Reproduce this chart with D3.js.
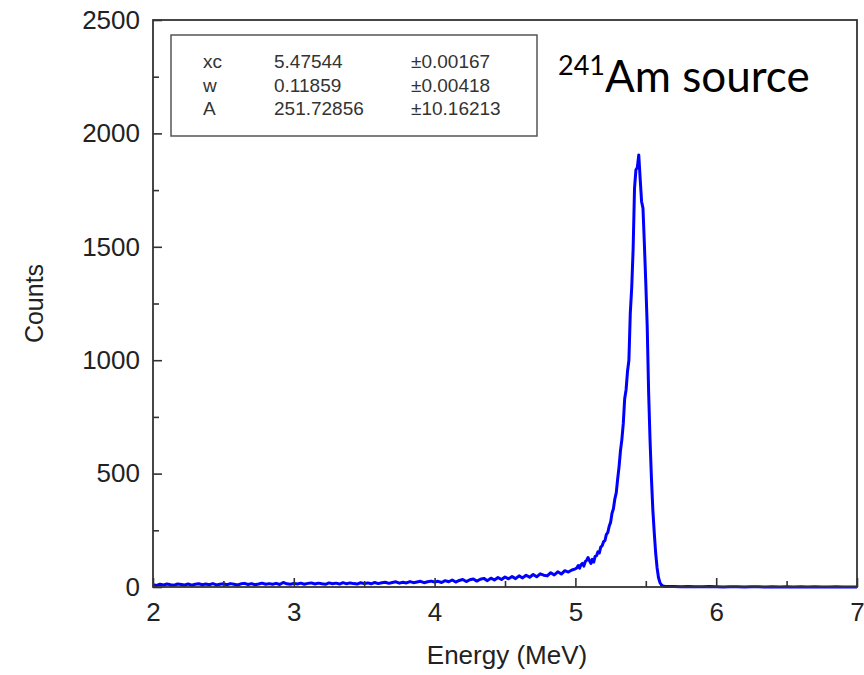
<!DOCTYPE html>
<html>
<head>
<meta charset="utf-8">
<script src="https://cdn.jsdelivr.net/npm/d3@7"></script>
<style>
  html, body { margin: 0; padding: 0; background: #fff; }
  svg { display: block; }
</style>
</head>
<body>
<svg id="chart" width="864" height="675"></svg>
<script>
// Alpha spectrum of a 241Am source: counts per channel vs energy (MeV)

// Low-energy tail, 2.000 .. 5.000 MeV in 0.025 MeV channels
const tailStart = 2.0, tailStep = 0.025;
const tailCounts = [
  10, 7, 12, 9, 13, 10, 8, 13, 11, 9, 13, 8, 12, 14, 10, 13, 10, 15, 9, 12, 14,
  10, 15, 12, 9, 14, 16, 11, 15, 10, 13, 17, 12, 15, 12, 16, 11, 20, 14, 12, 16,
  13, 17, 12, 16, 18, 13, 17, 14, 12, 18, 14, 17, 13, 19, 14, 18, 15, 13, 19, 15,
  18, 14, 20, 15, 19, 21, 16, 20, 23, 17, 21, 18, 24, 19, 22, 25, 19, 23, 26, 22,
  25, 20, 28, 23, 31, 22, 29, 33, 24, 32, 35, 26, 34, 38, 28, 39, 31, 42, 33, 44,
  36, 46, 37, 49, 40, 52, 43, 55, 45, 58, 52, 49, 63, 53, 67, 57, 72, 66, 75, 80
];

// Main peak region, 5.01 .. 5.65 MeV in 0.01 MeV channels
const peakStart = 5.01, peakStep = 0.01;
const peakCounts = [
  84, 95, 83, 99, 104, 92, 112, 118, 130, 116,
  104, 122, 110, 135, 138, 155, 150, 176, 182, 200,
  205, 232, 240, 268, 285, 325, 345, 388, 415, 475,
  530, 600, 650, 720, 830, 870, 950, 1000, 1210, 1320,
  1490, 1760, 1840, 1850, 1905, 1800, 1700, 1670, 1510, 1340,
  1150, 860, 650, 480, 340, 240, 150, 85, 42, 20,
  10, 5, 3, 2, 2
];

// High-energy side, 5.70 .. 7.00 MeV in 0.05 MeV channels
const highStart = 5.70, highStep = 0.05;
const highCounts = [2, 1, 2, 1, 1, 2, 1, 0, 1, 1, 0, 1, 1, 0, 1, 0, 1, 0, 1, 0, 1, 0, 0, 1, 0, 0, 0];

// Gaussian fit parameters shown in the inset table
const fitNames  = ["xc", "w", "A"];
const fitValues = ["5.47544", "0.11859", "251.72856"];
const fitErrors = ["\u00b10.00167", "\u00b10.00418", "\u00b110.16213"];

const xTicks = [2, 3, 4, 5, 6, 7];
const yTicks = [0, 500, 1000, 1500, 2000, 2500];

const toPoints = (start, step, arr) => arr.map((c, i) => ({ e: +(start + i * step).toFixed(3), c }));
const spectrum = [
  ...toPoints(tailStart, tailStep, tailCounts),
  ...toPoints(peakStart, peakStep, peakCounts),
  ...toPoints(highStart, highStep, highCounts)
];

const margin = { left: 153, right: 7, top: 20, bottom: 88 };
const W = 864, H = 675;
const svg = d3.select("#chart");

const x = d3.scaleLinear().domain([2, 7]).range([margin.left, W - margin.right]);
const y = d3.scaleLinear().domain([0, 2500]).range([H - margin.bottom, margin.top]);

const axisColor = "#333";
const font = "Liberation Sans, Arial, sans-serif";

// Spectrum line
svg.append("path")
  .datum(spectrum)
  .attr("fill", "none")
  .attr("stroke", "#0000ff")
  .attr("stroke-width", 3)
  .attr("stroke-linejoin", "round")
  .attr("d", d3.line().x(d => x(d.e)).y(d => y(d.c)));

// Bottom axis: inward major ticks + minor ticks
const gx = svg.append("g").attr("transform", `translate(0,${y(0)})`);
gx.call(d3.axisBottom(x).tickValues(xTicks).tickSize(-9).tickPadding(16).tickFormat(d3.format("d")));
gx.append("g").call(d3.axisBottom(x).tickValues(d3.range(2.5, 7, 1)).tickSize(-6).tickFormat(""));
gx.selectAll(".domain").remove();

// Left axis
const gy = svg.append("g").attr("transform", `translate(${x(2)},0)`);
gy.call(d3.axisLeft(y).tickValues(yTicks).tickSize(-9).tickPadding(13).tickFormat(d3.format("d")));
gy.append("g").call(d3.axisLeft(y).tickValues(d3.range(250, 2500, 500)).tickSize(-6).tickFormat(""));
gy.selectAll(".domain").remove();

svg.selectAll(".tick line").attr("stroke", axisColor).attr("stroke-width", 1.6);
svg.selectAll(".tick text")
  .attr("font-family", font)
  .attr("font-size", 26)
  .attr("fill", "#222");

// Frame
svg.append("rect")
  .attr("x", x(2)).attr("y", y(2500))
  .attr("width", x(7) - x(2)).attr("height", y(0) - y(2500))
  .attr("fill", "none").attr("stroke", axisColor).attr("stroke-width", 1.8);

// Axis titles
svg.append("text")
  .attr("x", (x(2) + x(7)) / 2 + 2).attr("y", 664)
  .attr("text-anchor", "middle")
  .attr("font-family", font).attr("font-size", 26).attr("fill", "#222")
  .text("Energy (MeV)");

svg.append("text")
  .attr("transform", `translate(43,${(y(0) + y(2500)) / 2}) rotate(-90)`)
  .attr("text-anchor", "middle")
  .attr("font-family", font).attr("font-size", 25).attr("fill", "#222")
  .text("Counts");

// Fit parameter table
const box = svg.append("g");
box.append("rect")
  .attr("x", 171).attr("y", 35).attr("width", 366).attr("height", 101)
  .attr("fill", "#fff").attr("stroke", "#555").attr("stroke-width", 1.5);
const rowY = [68, 92, 115];
const colX = [203, 274, 411];
fitNames.forEach((n, i) => {
  [n, fitValues[i], fitErrors[i]].forEach((t, j) => {
    box.append("text")
      .attr("x", colX[j]).attr("y", rowY[i])
      .attr("font-family", font).attr("font-size", 19).attr("fill", "#333")
      .text(t);
  });
});

// Source label with superscript mass number
const lbl = svg.append("text")
  .attr("x", 558).attr("y", 92)
  .attr("font-family", "Lato, 'Open Sans', sans-serif")
  .attr("fill", "#000");
lbl.append("tspan").attr("font-size", 27).attr("dy", -17).text("241");
lbl.append("tspan").attr("font-size", 44).attr("dy", 17).text("Am source");
</script>
</body>
</html>
